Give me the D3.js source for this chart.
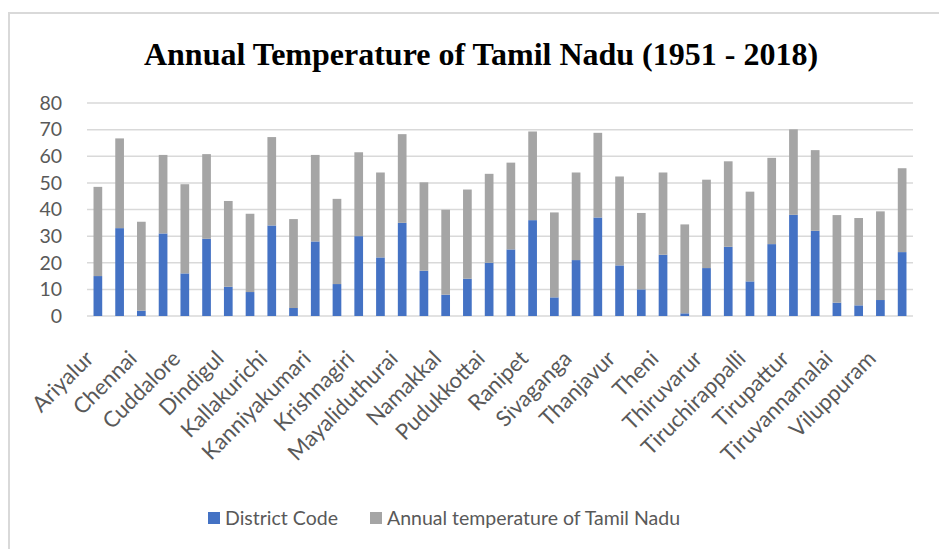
<!DOCTYPE html>
<html><head><meta charset="utf-8">
<script src="https://cdn.jsdelivr.net/npm/d3@7"></script>
<style>body{margin:0;background:#fff}svg{display:block}</style>
</head><body>
<svg id="c" width="939" height="549"></svg>
<script>
const districts = ["Ariyalur","Chengalpattu","Chennai","Coimbatore","Cuddalore","Dharmapuri","Dindigul","Erode","Kallakurichi","Kancheepuram","Kanniyakumari","Karur","Krishnagiri","Madurai","Mayaliduthurai","Nagapattinam","Namakkal","Perambalur","Pudukkottai","Ramanathapuram","Ranipet","Salem","Sivaganga","Tenkasi","Thanjavur","The Nilgiris","Theni","Thiruvallur","Thiruvarur","Thoothukudi","Tiruchirappalli","Tirunelveli","Tirupattur","Tiruppur","Tiruvannamalai","Vellore","Viluppuram","Virudhunagar"];
const districtCode = [15,33,2,31,16,29,11,9,34,3,28,12,30,22,35,17,8,14,20,25,36,7,21,37,19,10,23,1,18,26,13,27,38,32,5,4,6,24];
const annualTemp = [33.5,33.7,33.4,29.5,33.5,31.8,32.2,29.4,33.2,33.4,32.5,32.0,31.5,31.9,33.3,33.2,31.9,33.5,33.4,32.6,33.3,31.9,32.9,31.8,33.4,28.7,30.9,33.4,33.2,32.1,33.7,32.4,32.1,30.3,32.9,32.8,33.3,31.5];
const yTicks = [0,10,20,30,40,50,60,70,80];
const seriesNames = ["District Code","Annual temperature of Tamil Nadu"];
const colors = ["#4472C4","#A5A5A5"];

const svg = d3.select("#c");
const font = "Lato, 'Open Sans', sans-serif";
svg.append("rect").attr("x",9).attr("y",13).attr("width",1000).attr("height",600)
  .attr("fill","none").attr("stroke","#d9d9d9").attr("stroke-width",2);

svg.append("text").attr("x",481).attr("y",65).attr("text-anchor","middle")
  .attr("font-family","'Liberation Serif','Times New Roman',serif").attr("font-weight","bold")
  .attr("font-size",32).attr("fill","#000").text("Annual Temperature of Tamil Nadu (1951 - 2018)");

const x = d3.scaleBand().domain(districts).range([87,913]).paddingInner(0.6).paddingOuter(0.3);
const y = d3.scaleLinear().domain([0,80]).range([316,103]);

// gridlines
svg.append("g").selectAll("line").data(yTicks).join("line")
  .attr("x1",87).attr("x2",913).attr("y1",d=>y(d)).attr("y2",d=>y(d))
  .attr("stroke","#d9d9d9").attr("stroke-width",1.5);

// y labels
svg.append("g").selectAll("text").data(yTicks).join("text")
  .attr("x",62).attr("y",d=>y(d)).attr("dy","0.35em").attr("text-anchor","end")
  .attr("font-family",font).attr("font-size",19.5).attr("fill","#595959").text(d=>d);

const data = districts.map((d,i)=>({name:d, code:districtCode[i], temp:annualTemp[i]}));
const stack = d3.stack().keys(["code","temp"])(data);
svg.append("g").selectAll("g").data(stack).join("g").attr("fill",(d,i)=>colors[i])
  .selectAll("rect").data(d=>d).join("rect")
  .attr("x",d=>x(d.data.name)).attr("width",x.bandwidth())
  .attr("y",d=>y(d[1])).attr("height",d=>y(d[0])-y(d[1]));

// x labels (every other)
const xAxis = d3.axisBottom(x).tickSize(0).tickValues(districts.filter((d,i)=>i%2===0));
const gx = svg.append("g").attr("transform","translate(0,316)").call(xAxis);
gx.select(".domain").remove();
gx.selectAll("text").attr("font-family",font).attr("font-size",22).attr("fill","#595959")
  .attr("text-anchor","end").attr("dy",null).attr("y",0)
  .attr("transform","translate(-3,44) rotate(-45)");

// legend
const leg = [{x:208, name:seriesNames[0], c:colors[0]},{x:370, name:seriesNames[1], c:colors[1]}];
const lg = svg.append("g").selectAll("g").data(leg).join("g");
lg.append("rect").attr("x",d=>d.x).attr("y",512).attr("width",12).attr("height",12).attr("fill",d=>d.c);
lg.append("text").attr("x",d=>d.x+17).attr("y",518).attr("dy","0.35em")
  .attr("font-family",font).attr("font-size",19.5).attr("fill","#595959").text(d=>d.name);
</script>
</body></html>
